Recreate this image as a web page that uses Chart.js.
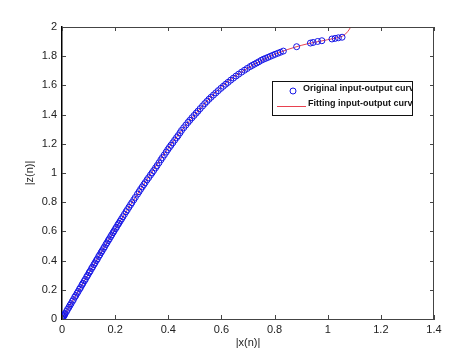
<!DOCTYPE html>
<html>
<head>
<meta charset="utf-8">
<script src="https://cdn.jsdelivr.net/npm/chart.js@4/dist/chart.umd.min.js"></script>
<style>
html,body{margin:0;padding:0;background:#fff;}
#wrap{width:475px;height:358px;position:relative;}
</style>
</head>
<body>
<div id="wrap"><canvas id="c" width="475" height="358"></canvas></div>
<script>
// ---- data ----
const seriesNames = ["Original input-output curve", "Fitting input-output curve"];
const xTickLabels = ["0","0.2","0.4","0.6","0.8","1","1.2","1.4"];
const yTickLabels = ["0","0.2","0.4","0.6","0.8","1","1.2","1.4","1.6","1.8","2"];
const axisTitles = ["|x(n)|", "|z(n)|"];

const origX = [0.000,0.002,0.004,0.006,0.008,0.010,0.012,0.017,0.021,0.026,0.030,0.034,0.039,0.043,0.048,0.052,0.057,0.061,0.066,0.070,0.075,0.079,0.084,0.088,0.093,0.097,0.102,0.106,0.111,0.115,0.120,0.124,0.129,0.133,0.138,0.142,0.147,0.151,0.156,0.160,0.165,0.169,0.174,0.178,0.183,0.187,0.192,0.196,0.201,0.205,0.210,0.214,0.219,0.224,0.229,0.235,0.241,0.246,
0.252,0.258,0.263,0.270,0.276,0.284,0.290,0.296,0.302,0.308,0.313,0.320,0.326,0.333,0.339,0.345,0.352,0.358,0.365,0.372,0.378,0.385,0.392,0.398,0.404,0.410,0.417,0.424,0.431,0.437,0.444,0.450,0.458,0.466,0.474,0.481,0.489,0.497,0.505,0.512,0.520,0.529,0.537,0.545,0.553,0.561,0.570,0.579,0.588,0.598,0.607,0.616,0.625,0.635,0.645,0.655,0.665,0.676,0.687,0.697,0.708,0.716,0.724,0.733,0.741,0.750,0.758,0.766,0.775,0.784,0.793,0.802,0.812,0.822,0.833,0.883,0.935,0.945,0.962,0.978,1.016,1.028,1.040,1.054];
const origY = [0.000,0.006,0.013,0.019,0.024,0.031,0.038,0.052,0.066,0.080,0.094,0.105,0.121,0.133,0.150,0.161,0.177,0.189,0.205,0.216,0.233,0.245,0.261,0.272,0.289,0.300,0.317,0.328,0.345,0.356,0.372,0.384,0.400,0.411,0.428,0.439,0.455,0.467,0.482,0.494,0.510,0.521,0.537,0.549,0.564,0.576,0.591,0.603,0.618,0.629,0.645,0.656,0.671,0.685,0.700,0.717,0.735,0.749,
0.766,0.783,0.797,0.816,0.833,0.855,0.872,0.889,0.905,0.921,0.934,0.953,0.968,0.986,1.001,1.017,1.035,1.051,1.070,1.090,1.106,1.124,1.143,1.160,1.175,1.190,1.207,1.225,1.242,1.256,1.275,1.292,1.310,1.328,1.346,1.361,1.378,1.394,1.410,1.424,1.441,1.459,1.475,1.490,1.505,1.519,1.534,1.549,1.564,1.580,1.594,1.608,1.621,1.636,1.650,1.664,1.677,1.691,1.704,1.716,1.729,1.737,1.745,1.754,1.762,1.772,1.779,1.785,1.792,1.799,1.806,1.813,1.820,1.827,1.835,1.865,1.890,1.894,1.901,1.906,1.918,1.922,1.926,1.930];

const fitX = [0,0.1,0.2,0.3,0.4,0.5,0.6,0.7,0.8,0.9,1.0,1.04,1.06,1.075,1.085,1.1];
const fitY = [0,0.31,0.615,0.90,1.17,1.40,1.59,1.72,1.812,1.874,1.913,1.928,1.942,1.968,1.995,2.05];

// ---- chart ----
const FONT = "'Liberation Sans', Arial, sans-serif";
const pts = (xs, ys) => xs.map((x, i) => ({x: x, y: ys[i]}));

const boxTicks = {
  id: 'boxTicks',
  afterDraw(chart) {
    const {ctx, chartArea: a, scales: {x, y}} = chart;
    ctx.save();
    ctx.strokeStyle = '#444';
    ctx.lineWidth = 1;
    ctx.beginPath();
    ctx.moveTo(a.left, a.top + 0.5); ctx.lineTo(a.right, a.top + 0.5);
    ctx.moveTo(a.right - 0.5, a.top); ctx.lineTo(a.right - 0.5, a.bottom);
    const L = 4;
    x.ticks.forEach(t => {
      const px = Math.round(x.getPixelForValue(t.value)) + 0.5;
      ctx.moveTo(px, a.bottom); ctx.lineTo(px, a.bottom - L);
      ctx.moveTo(px, a.top); ctx.lineTo(px, a.top + L);
    });
    y.ticks.forEach(t => {
      const py = Math.round(y.getPixelForValue(t.value)) + 0.5;
      ctx.moveTo(a.left, py); ctx.lineTo(a.left + L, py);
      ctx.moveTo(a.right, py); ctx.lineTo(a.right - L, py);
    });
    ctx.stroke();

    // legend box
    const bx = 272, by = 81, bw = 141, bh = 35;
    ctx.fillStyle = '#fff';
    ctx.fillRect(bx, by, bw, bh);
    ctx.strokeStyle = '#111';
    ctx.strokeRect(bx + 0.5, by + 0.5, bw - 1, bh - 1);
    ctx.beginPath();
    ctx.rect(bx + 1, by + 1, bw - 2, bh - 2);
    ctx.clip();
    const ds = chart.data.datasets;
    ctx.strokeStyle = ds[0].borderColor;
    ctx.lineWidth = 1;
    ctx.beginPath();
    ctx.arc(293, 91, 3, 0, Math.PI * 2);
    ctx.stroke();
    ctx.fillStyle = '#111';
    ctx.font = 'bold 9px ' + FONT;
    ctx.textBaseline = 'middle';
    ctx.textAlign = 'left';
    ctx.fillText(ds[0].label, 303, 89);
    ctx.strokeStyle = ds[1].borderColor;
    ctx.beginPath();
    ctx.moveTo(277, 106.5); ctx.lineTo(306, 106.5);
    ctx.stroke();
    ctx.fillText(ds[1].label, 308, 104);
    ctx.restore();
  }
};

new Chart(document.getElementById('c'), {
  type: 'scatter',
  data: {
    datasets: [
      {
        label: seriesNames[0],
        data: pts(origX, origY),
        showLine: false,
        pointStyle: 'circle',
        pointRadius: 3,
        pointBorderWidth: 1,
        borderColor: '#1414e6',
        pointBorderColor: '#1414e6',
        pointBackgroundColor: 'rgba(0,0,0,0)',
        backgroundColor: 'rgba(0,0,0,0)'
      },
      {
        label: seriesNames[1],
        data: pts(fitX, fitY),
        showLine: true,
        pointRadius: 0,
        borderWidth: 1,
        borderColor: '#e8414f',
        backgroundColor: '#e8414f',
        cubicInterpolationMode: 'monotone',
        clip: 0
      }
    ]
  },
  options: {
    responsive: false,
    animation: false,
    events: [],
    layout: {padding: {left: 0, top: 27, right: 41, bottom: 0}},
    plugins: {legend: {display: false}, tooltip: {enabled: false}},
    scales: {
      x: {
        type: 'linear', min: 0, max: 1.4,
        afterFit: s => { s.height = 39; },
        grid: {display: false, drawTicks: false},
        border: {display: true, color: '#444', width: 1},
        ticks: {
          stepSize: 0.2, padding: 4, color: '#222', maxRotation: 0, autoSkip: false,
          font: {family: FONT, size: 11},
          callback: (v, i) => xTickLabels[i]
        },
        title: {display: true, text: axisTitles[0], color: '#222',
          font: {family: FONT, size: 11}, padding: {top: 0, bottom: 8}}
      },
      y: {
        type: 'linear', min: 0, max: 2,
        afterFit: s => { s.width = 62; },
        grid: {display: false, drawTicks: false},
        border: {display: true, color: '#000', width: 1.5},
        ticks: {
          stepSize: 0.2, padding: 5, color: '#222', autoSkip: false,
          font: {family: FONT, size: 11},
          callback: (v, i) => yTickLabels[i]
        },
        title: {display: true, text: axisTitles[1], color: '#222',
          font: {family: FONT, size: 11}, padding: {top: 23, bottom: 0}}
      }
    }
  },
  plugins: [boxTicks]
});
</script>
</body>
</html>
